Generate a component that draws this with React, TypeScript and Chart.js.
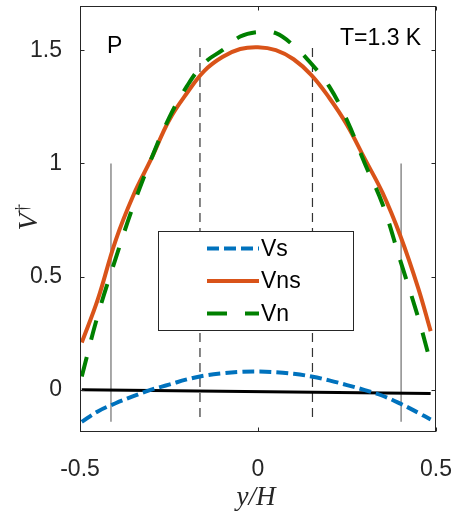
import React, { useEffect, useRef } from "react";
import { Chart, registerables } from "chart.js";

Chart.register(...registerables);

// ---- data ----
const xs = [-0.495, -0.45, -0.4, -0.35, -0.3, -0.25, -0.2, -0.15, -0.1, -0.05, 0, 0.05, 0.1, 0.15, 0.2, 0.25, 0.3, 0.35, 0.4, 0.45, 0.485];
const vs = [-0.14, -0.094, -0.058, -0.027, 0.002, 0.024, 0.047, 0.064, 0.074, 0.08, 0.082, 0.079, 0.072, 0.06, 0.043, 0.022, 0.0, -0.025, -0.06, -0.1, -0.13];
const vns = [0.21, 0.4, 0.66, 0.86, 1.02, 1.19, 1.31, 1.41, 1.47, 1.505, 1.513, 1.5, 1.46, 1.39, 1.29, 1.17, 1.02, 0.87, 0.68, 0.45, 0.26];
const vn = [0.06, 0.33, 0.58, 0.815, 1.02, 1.2, 1.34, 1.445, 1.5, 1.56, 1.58, 1.575, 1.52, 1.44, 1.34, 1.19, 1.0, 0.82, 0.57, 0.32, 0.12];
const baseX = [-0.495, 0.485];
const baseY = [0.002, -0.015];
const solidMarkX = [-0.413, 0.402];
const solidMarkY = [1.0, -0.14];
const dashMarkX = [-0.163, 0.153];
const dashMarkY = [1.51, -0.14];
const xTicks = [-0.5, 0, 0.5];
const yTicks = [0, 0.5, 1, 1.5];
const seriesLabels = ["Vs", "Vns", "Vn"];
const panelLabel = "P";
const tempLabel = "T=1.3 K";

const AX = "#262626";
const SANS = "'Liberation Sans', Arial, sans-serif";
const SERIF = "'Liberation Serif', 'Times New Roman', serif";

function pts(x: number[], y: number[]) {
  return x.map((v, i) => ({ x: v, y: y[i] }));
}

function zeroPad(s: any) {
  s.paddingLeft = 0;
  s.paddingRight = 0;
  s.paddingTop = 0;
  s.paddingBottom = 0;
}

const overlayPlugin = {
  id: "overlay",
  afterDatasetsDraw(chart: any) {
    const { ctx, chartArea: a, scales } = chart;
    const xS = scales.x;
    const yS = scales.y;
    ctx.save();
    ctx.strokeStyle = AX;
    ctx.lineWidth = 1;
    const L = Math.round(a.left) + 0.5;
    const R = Math.round(a.right) - 0.5;
    const T = Math.round(a.top) + 0.5;
    const B = Math.round(a.bottom) - 0.5;
    ctx.strokeRect(L, T, R - L, B - T);
    ctx.beginPath();
    xTicks.forEach((v) => {
      const p = Math.round(xS.getPixelForValue(v)) + 0.5;
      ctx.moveTo(p, B);
      ctx.lineTo(p, B - 4);
      ctx.moveTo(p, T);
      ctx.lineTo(p, T + 4);
    });
    yTicks.forEach((v) => {
      const p = Math.round(yS.getPixelForValue(v)) + 0.5;
      ctx.moveTo(L, p);
      ctx.lineTo(L + 4, p);
      ctx.moveTo(R, p);
      ctx.lineTo(R - 4, p);
    });
    ctx.stroke();
    ctx.restore();
  },
  afterDraw(chart: any) {
    const { ctx } = chart;
    const ds = chart.data.datasets;
    ctx.save();
    // legend
    const bx = 158.5, by = 231.5, bw = 195, bh = 99;
    ctx.fillStyle = "#fff";
    ctx.fillRect(bx, by, bw, bh);
    ctx.strokeStyle = AX;
    ctx.lineWidth = 1;
    ctx.strokeRect(bx, by, bw, bh);
    const rows = [248.5, 281, 313.5];
    seriesLabels.forEach((lab, i) => {
      const d = ds[i];
      ctx.beginPath();
      ctx.strokeStyle = d.borderColor;
      ctx.lineWidth = d.borderWidth;
      ctx.setLineDash(d.borderDash || []);
      ctx.moveTo(207, rows[i]);
      ctx.lineTo(259, rows[i]);
      ctx.stroke();
      ctx.setLineDash([]);
      ctx.fillStyle = "#000";
      ctx.font = `23px ${SANS}`;
      ctx.textAlign = "left";
      ctx.textBaseline = "middle";
      ctx.fillText(lab, 261, rows[i] + 1);
    });
    // annotations
    ctx.fillStyle = "#000";
    ctx.font = `23px ${SANS}`;
    ctx.textBaseline = "alphabetic";
    ctx.textAlign = "left";
    ctx.fillText(panelLabel, 107, 53);
    ctx.fillText(tempLabel, 340, 45);
    // x title
    ctx.fillStyle = AX;
    ctx.font = `italic 27px ${SERIF}`;
    ctx.textAlign = "center";
    ctx.fillText("y/H", 256, 505);
    // y title (rotated)
    ctx.translate(27, 218);
    ctx.rotate(-Math.PI / 2);
    ctx.font = `italic 28px ${SERIF}`;
    ctx.textAlign = "center";
    ctx.fillText("V", -4, 10);
    ctx.font = `18px ${SERIF}`;
    ctx.textAlign = "left";
    ctx.fillText("\u2020", 5, 1);
    ctx.restore();
  },
};

export default function App() {
  const ref = useRef<HTMLCanvasElement | null>(null);
  useEffect(() => {
    if (!ref.current) return;
    const common = { pointRadius: 0, fill: false, showLine: true };
    const chart = new Chart(ref.current, {
      type: "line",
      data: {
        datasets: [
          { ...common, label: seriesLabels[0], data: pts(xs, vs), borderColor: "#0072BD", borderWidth: 4, borderDash: [12, 5], tension: 0.4, order: 4 },
          { ...common, label: seriesLabels[1], data: pts(xs, vns), borderColor: "#D95319", borderWidth: 4, tension: 0.4, order: 3 },
          { ...common, label: seriesLabels[2], data: pts(xs, vn), borderColor: "#008000", borderWidth: 4, borderDash: [20, 18], tension: 0.4, order: 2 },
          { ...common, label: "base", data: pts(baseX, baseY), borderColor: "#000", borderWidth: 3, order: 5 },
          { ...common, label: "m1", data: pts([solidMarkX[0], solidMarkX[0]], solidMarkY), borderColor: "#8c8c8c", borderWidth: 1.5, order: 8 },
          { ...common, label: "m2", data: pts([solidMarkX[1], solidMarkX[1]], solidMarkY), borderColor: "#8c8c8c", borderWidth: 1.5, order: 8 },
          { ...common, label: "d1", data: pts([dashMarkX[0], dashMarkX[0]], dashMarkY), borderColor: "#333", borderWidth: 1.2, borderDash: [9, 6], order: 9 },
          { ...common, label: "d2", data: pts([dashMarkX[1], dashMarkX[1]], dashMarkY), borderColor: "#333", borderWidth: 1.2, borderDash: [9, 6], order: 9 },
        ],
      },
      options: {
        animation: false,
        responsive: false,
        devicePixelRatio: 1,
        layout: { padding: { top: 6, right: 23, left: 0, bottom: 0 } },
        plugins: { legend: { display: false }, tooltip: { enabled: false } },
        scales: {
          x: {
            type: "linear",
            min: -0.5,
            max: 0.5,
            grid: { display: false },
            border: { display: false },
            afterFit: (s: any) => { s.height = 80; zeroPad(s); },
            afterBuildTicks: (s: any) => { s.ticks = xTicks.map((v) => ({ value: v })); },
            ticks: {
              padding: 16,
              color: AX,
              font: { family: SANS, size: 23 },
              maxRotation: 0,
              autoSkip: false,
              callback: (v: any) => String(v),
            },
          },
          y: {
            type: "linear",
            min: -0.185,
            max: 1.695,
            grid: { display: false },
            border: { display: false },
            afterFit: (s: any) => { s.width = 80; zeroPad(s); },
            afterBuildTicks: (s: any) => { s.ticks = yTicks.map((v) => ({ value: v })); },
            ticks: {
              padding: 10,
              color: AX,
              font: { family: SANS, size: 23 },
              autoSkip: false,
              callback: (v: any) => String(v),
            },
          },
        },
      },
      plugins: [overlayPlugin],
    } as any);
    return () => chart.destroy();
  }, []);
  return (
    <div style={{ position: "absolute", left: 0, top: 0, width: 459, height: 512, background: "#fff" }}>
      <canvas ref={ref} width={459} height={512} style={{ display: "block", width: 459, height: 512 }} />
    </div>
  );
}
